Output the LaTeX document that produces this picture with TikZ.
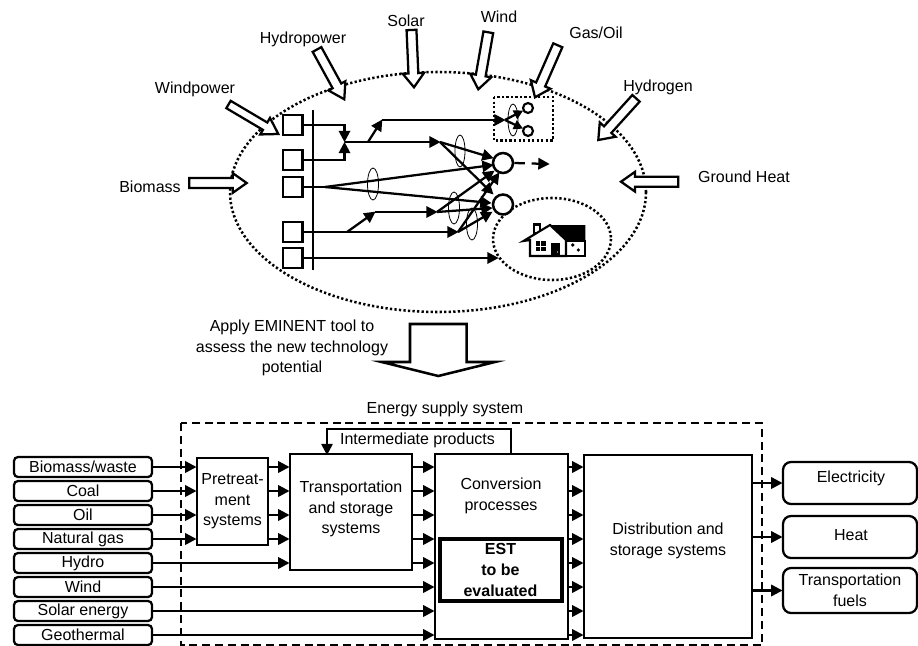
\documentclass[tikz,border=0pt]{standalone}
\usepackage{fontspec}
\setmainfont{Liberation Sans}
\usetikzlibrary{arrows.meta,calc}
\tikzset{
  x=0.75pt,y=-0.75pt,
  conn/.style={line width=1.7pt,-{Triangle[length=8.5pt,width=8.5pt]},shorten >=-0.5pt},
  plainline/.style={line width=1.7pt},
  thinell/.style={draw,line width=0.6pt},
  blockarrow/.style={draw,line width=1.7pt,fill=white,miter limit=10},
  bigdots/.style={draw,line width=1.9pt,dash pattern=on 1.7pt off 1.7pt},
  sq/.style={draw,line width=1.9pt,fill=white,minimum size=14.5pt,inner sep=0pt},
  flowbox/.style={draw,line width=1.7pt,fill=white,inner sep=0pt,align=center},
  srcbox/.style={draw,line width=1.7pt,fill=white,inner sep=0pt,align=center,rounded corners=3pt},
  lbl/.style={inner sep=0pt,align=center,font=\fontsize{12}{15.4}\selectfont},
  circ/.style={draw,circle,line width=1.9pt,fill=white,inner sep=0pt},
}
\newcommand{\bk}[5]{%
  \coordinate (bkn) at ($(#2)!#5!(#1)$);
  \draw[blockarrow] ($(#1)!#3!90:(#2)$) -- ($(bkn)!#3!90:(#2)$) -- ($(bkn)!#4!90:(#2)$) -- (#2)
    -- ($(bkn)!#4!-90:(#2)$) -- ($(bkn)!#3!-90:(#2)$) -- ($(#1)!#3!-90:(#2)$) -- cycle;}
\newcommand{\bx}[7][flowbox]{%
  \node[#1,minimum width={(#5-#3)*0.75pt},minimum height={(#6-#4)*0.75pt}] (#2) at ({(#3+#5)/2},{(#4+#6)/2}) {#7};}
\begin{document}
\begin{tikzpicture}
\useasboundingbox[clip] (0,0) rectangle (918,646);
\fill[white] (0,0) rectangle (918,646);
% --- top: region ellipses
\path[bigdots] (438,192) ellipse [x radius=208,y radius=120];
\path[bigdots,fill=white] (552,239) ellipse [x radius=59,y radius=41];
% --- squares and bus
\bx[sq]{s1}{283}{115}{302.5}{135}{}
\bx[sq]{s2}{283}{150}{302.5}{170}{}
\bx[sq]{s3}{283}{177}{302.5}{197}{}
\bx[sq]{s4}{283}{222}{302.5}{242}{}
\bx[sq]{s5}{283}{248}{302.5}{268}{}
\coordinate (bust) at (312.7,110);
\coordinate (busb) at (312.7,270);
\draw[plainline] (bust) -- (busb);
% --- junctions and end nodes
\coordinate (ja) at (344.5,142);
\coordinate (jb) at (368,142);
\coordinate (jc) at (382,120);
\coordinate (jd) at (440,142);
\coordinate (je) at (325,187);
\coordinate (jf) at (347,232);
\coordinate (jg) at (375,212);
\coordinate (jh) at (437,212);
\coordinate (ji) at (458,232);
\coordinate (jk) at (505,120);
\coordinate (dashend) at (549,164);
\coordinate (hs) at (498,258);
\node[circ,minimum size=15pt] (c1) at (503,163) {};
\node[circ,minimum size=15pt] (c2) at (503,204.5) {};
\node[circ,minimum size=7.5pt,line width=1.6pt] (g1) at (528,108) {};
\node[circ,minimum size=7.5pt,line width=1.6pt] (g2) at (528,131) {};
% --- thin ellipses
\draw[thinell] (460,151) ellipse [x radius=5,y radius=16];
\draw[thinell] (373,184) ellipse [x radius=5.5,y radius=16];
\draw[thinell] (454,208) ellipse [x radius=5.5,y radius=16];
\draw[thinell] (472,224) ellipse [x radius=5.5,y radius=16];
\draw[thinell] (513,120) ellipse [x radius=5,y radius=16];
% --- top connectors
\draw[conn] (s1.east) -| ($(ja)+(0,-0.5)$);
\draw[conn] (s2.east) -| ($(ja)+(0,0.5)$);
\draw[conn] (ja) -- (jd);
\draw[conn] (jb) -- (jc);
\draw[conn] (jc) -- (jk);
\draw[conn] (jd) -- (493,158);
\draw[conn] (jd) -- (493,194);
\draw[plainline] (s3.east) -- (je);
\draw[conn] (je) -- (493,165);
\draw[conn] (je) -- (491,203);
\draw[conn] (s4.east) -- (ji);
\draw[conn] (jf) -- (jg);
\draw[conn] (jg) -- (jh);
\draw[conn] (jh) -- (494,171);
\draw[conn] (jh) -- (492,208);
\draw[conn] (ji) -- (499,173);
\draw[conn] (ji) -- (492,212);
\draw[conn] (s5.east) -- (hs);
\draw[conn,dash pattern=on 8pt off 5pt] (c1.east) -- (dashend);
\draw[conn,-{Triangle[length=7pt,width=7pt]}] (jk) -- (g1);
\draw[conn,-{Triangle[length=7pt,width=7pt]}] (jk) -- (g2);
% --- gas/oil dotted box
\draw[bigdots] (494,97) rectangle (553,140.5);
% --- house
\draw[line width=1.6pt,fill=white] (534.3,233) rectangle (540,224.5);
\fill (550,225) -- (585.3,225) -- (585.3,241) -- (566,241) -- cycle;
\draw[line width=1.6pt,fill=white] (530,240) -- (530,256) -- (585.3,256) -- (585.3,241) -- (566,241) -- (566,256);
\draw[line width=1.6pt,fill=white] (523.5,241) -- (550,225) -- (566,240) -- (566,256) -- (530,256) -- (530,240) -- cycle;
\fill (535.7,241) rectangle (546,250.7);
\draw[white,line width=0.7pt] (540.8,241) -- (540.8,250.7) (535.7,246) -- (546,246);
\fill (551.3,242.7) rectangle (560,256);
\fill[white] (557.5,252) circle (0.7);
\fill (572.7,245) circle (1.8);
\fill (578.3,250) circle (1.8);
% --- block arrows
\bk{228.5,104.5}{278.3,134}{3.2pt}{7.2pt}{11.5pt}
\bk{317,49.5}{344.3,99.3}{3.7pt}{7.2pt}{11.5pt}
\bk{189.3,183}{246.7,183}{3.7pt}{7.4pt}{10.5pt}
\bk{411.5,30}{414,87.3}{3.7pt}{8pt}{10.5pt}
\bk{488.3,32.3}{478.3,89.3}{3.7pt}{8pt}{10.5pt}
\bk{557.8,45.3}{535,97.3}{3.7pt}{8pt}{10.5pt}
\bk{636,98.3}{598.3,140}{3.7pt}{8pt}{10.5pt}
\bk{678.3,181.7}{621,181.7}{3.7pt}{7.4pt}{10.5pt}
% --- big arrow
\draw[blockarrow,line width=1.9pt] (410,324) -- (466.7,324) -- (466.7,362) -- (495,362) -- (438.3,376) -- (381.7,362) -- (410,362) -- cycle;
% --- top labels
\node[lbl] (lwp) at (195,89) {Windpower};
\node[lbl] (lhp) at (303,39) {Hydropower};
\node[lbl] (lso) at (406,21) {Solar};
\node[lbl] (lwi) at (499,17) {Wind};
\node[lbl] (lgo) at (596,33) {Gas/Oil};
\node[lbl] (lhy) at (658,87) {Hydrogen};
\node[lbl] (lgh) at (744,177) {Ground Heat};
\node[lbl] (lbm) at (150,187) {Biomass};
\node[lbl] (lapp) at (292,348) {Apply EMINENT tool to\\assess the new technology\\potential};
% --- bottom: system frame
\draw[line width=1.5pt,dash pattern=on 6pt off 3.6pt] (181,423) rectangle (762,645);
\node[lbl] (lsys) at (445,409) {Energy supply system};
% --- boxes
\bx[srcbox,lbl]{bio}{14}{457}{152}{477}{Biomass/waste}
\bx[srcbox,lbl]{coal}{14}{481}{152}{501}{Coal}
\bx[srcbox,lbl]{oil}{14}{505}{152}{525}{Oil}
\bx[srcbox,lbl]{gas}{14}{529}{152}{549}{Natural gas}
\bx[srcbox,lbl]{hyd}{14}{553}{152}{573}{Hydro}
\bx[srcbox,lbl]{win}{14}{577}{152}{597}{Wind}
\bx[srcbox,lbl]{sol}{14}{601}{152}{621}{Solar energy}
\bx[srcbox,lbl]{geo}{14}{625}{152}{645}{Geothermal}
\bx[flowbox,lbl]{pre}{197}{458}{268}{545}{Pretreat-\\ment\\systems}
\bx{trans}{290}{454}{412}{570}{}
\node[lbl] (ltrans) at (351,509) {Transportation\\and storage\\systems};
\bx{conv}{435}{454}{568}{639}{}
\node[lbl] (lconv) at (501,496) {Conversion\\processes};
\node[draw,line width=3pt,fill=white,inner sep=0pt,minimum width=91.5pt,minimum height=47pt,align=center,font=\fontsize{12}{15.4}\selectfont\bfseries] (est) at (500.5,570) {EST\\to be\\evaluated};
\bx{dist}{584}{455}{752}{638}{}
\node[lbl] (ldist) at (668,541) {Distribution and\\storage systems};
\bx[srcbox,lbl,rounded corners=6pt]{el}{783}{462}{917}{504}{}
\node[lbl] (lel) at (851,478) {Electricity};
\bx[srcbox,lbl,rounded corners=6pt]{heat}{783}{516}{917}{558}{}
\node[lbl] (lheat) at (851,535) {Heat};
\bx[srcbox,lbl,rounded corners=6pt]{tf}{783}{568}{917}{613}{Transportation\\fuels}
% --- intermediate loop
\coordinate (ipa) at (511,454);
\coordinate (ipb) at (327,454.5);
\coordinate (ipc) at (511,429);
\draw[conn,line width=1.5pt] (ipa) -- (ipc) -| (ipb);
\node[lbl] (lint) at (417.5,440) {Intermediate products};
% --- bottom connectors
\foreach \s in {bio,coal,oil,gas}{
  \draw[conn] (\s.east) -- (\s.east -| pre.west);
  \draw[conn] (\s.east -| pre.east) -- (\s.east -| trans.west);
  \draw[conn] (\s.east -| trans.east) -- (\s.east -| conv.west);
}
\draw[conn] (hyd.east) -- (hyd.east -| trans.west);
\draw[conn] (hyd.east -| trans.east) -- (hyd.east -| conv.west);
\foreach \s in {win,sol,geo}{
  \draw[conn] (\s.east) -- (\s.east -| conv.west);
}
\foreach \s in {bio,coal,oil,gas,hyd,win,sol,geo}{
  \draw[conn] (\s.east -| conv.east) -- (\s.east -| dist.west);
}
\foreach \s in {el,heat,tf}{
  \draw[conn] (\s.west -| dist.east) -- (\s.west);
}
\end{tikzpicture}
\end{document}
